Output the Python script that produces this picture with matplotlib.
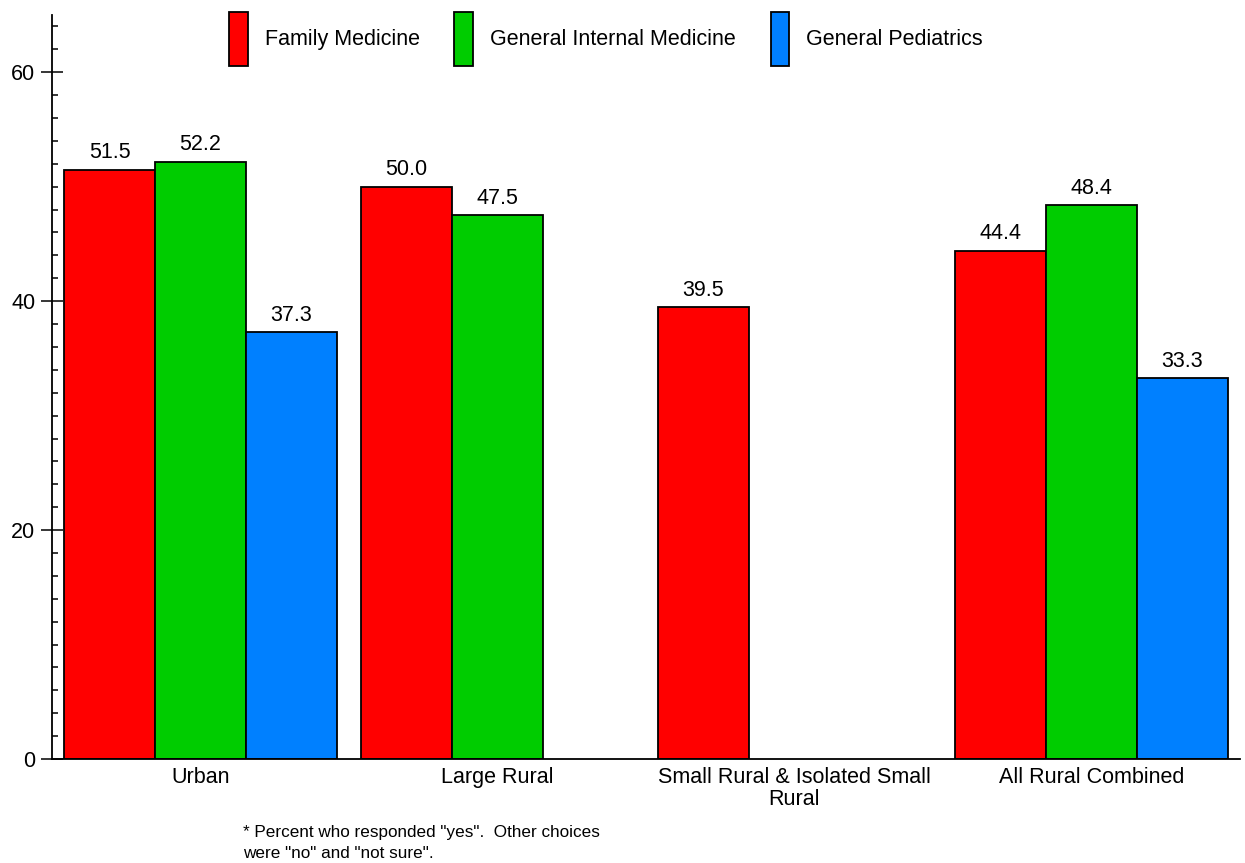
import matplotlib.pyplot as plt
import numpy as np
from matplotlib.ticker import MultipleLocator

plt.rcParams['font.family'] = ['Liberation Sans', 'DejaVu Sans']

groups = ['Urban', 'Large Rural', 'Small Rural & Isolated Small\nRural', 'All Rural Combined']
series = ['Family Medicine', 'General Internal Medicine', 'General Pediatrics']
family_med = [51.5, 50.0, 39.5, 44.4]
internal_med = [52.2, 47.5, None, 48.4]
pediatrics = [37.3, None, None, 33.3]
colors = ['#ff0000', '#00cc00', '#0080ff']
footnote = '* Percent who responded "yes".  Other choices\nwere "no" and "not sure".'

fs = 15.5
fig = plt.figure(figsize=(12.45, 8.63), dpi=100)
ax = fig.add_axes([52 / 1245, 1 - 759 / 863, 1188 / 1245, 744 / 863])

x = np.arange(len(groups))
w = 91 / 297
handles = []
for k, (vals, col, name) in enumerate(zip([family_med, internal_med, pediatrics], colors, series)):
    xs = [xi + (k - 1) * w for xi, v in zip(x, vals) if v is not None]
    ys = [v for v in vals if v is not None]
    bars = ax.bar(xs, ys, width=w, color=col, edgecolor='black', linewidth=1.3, label=name)
    handles.append(bars)
    for bx, by in zip(xs, ys):
        ax.text(bx, by + 0.55, f'{by:.1f}', ha='center', va='bottom', fontsize=fs)

ax.set_xlim(-0.5, 3.5)
ax.set_ylim(0, 65)
ax.set_xticks(x)
ax.set_xticklabels(groups, fontsize=fs, linespacing=1.05)
ax.tick_params(axis='x', length=0, pad=6)
ax.yaxis.set_major_locator(MultipleLocator(20))
ax.yaxis.set_minor_locator(MultipleLocator(2))
ax.tick_params(axis='y', which='major', direction='inout', length=16, width=1.1, labelsize=fs, pad=4)
ax.tick_params(axis='y', which='minor', direction='in', length=4.5, width=1.1)
for s in ['top', 'right']:
    ax.spines[s].set_visible(False)
for s in ['left', 'bottom']:
    ax.spines[s].set_linewidth(1.3)

fig.legend(handles=handles, loc='upper left', bbox_to_anchor=(229 / 1245, 1 - 12 / 863), ncol=3,
           frameon=False, fontsize=fs, handlelength=0.88, handleheight=3.5,
           handletextpad=0.79, columnspacing=1.6, borderpad=0, borderaxespad=0)

fig.text(243 / 1245, 1 - 825 / 863, footnote, fontsize=12.3, va='top', ha='left', linespacing=1.5)

fig.savefig('out.png', dpi=100)
